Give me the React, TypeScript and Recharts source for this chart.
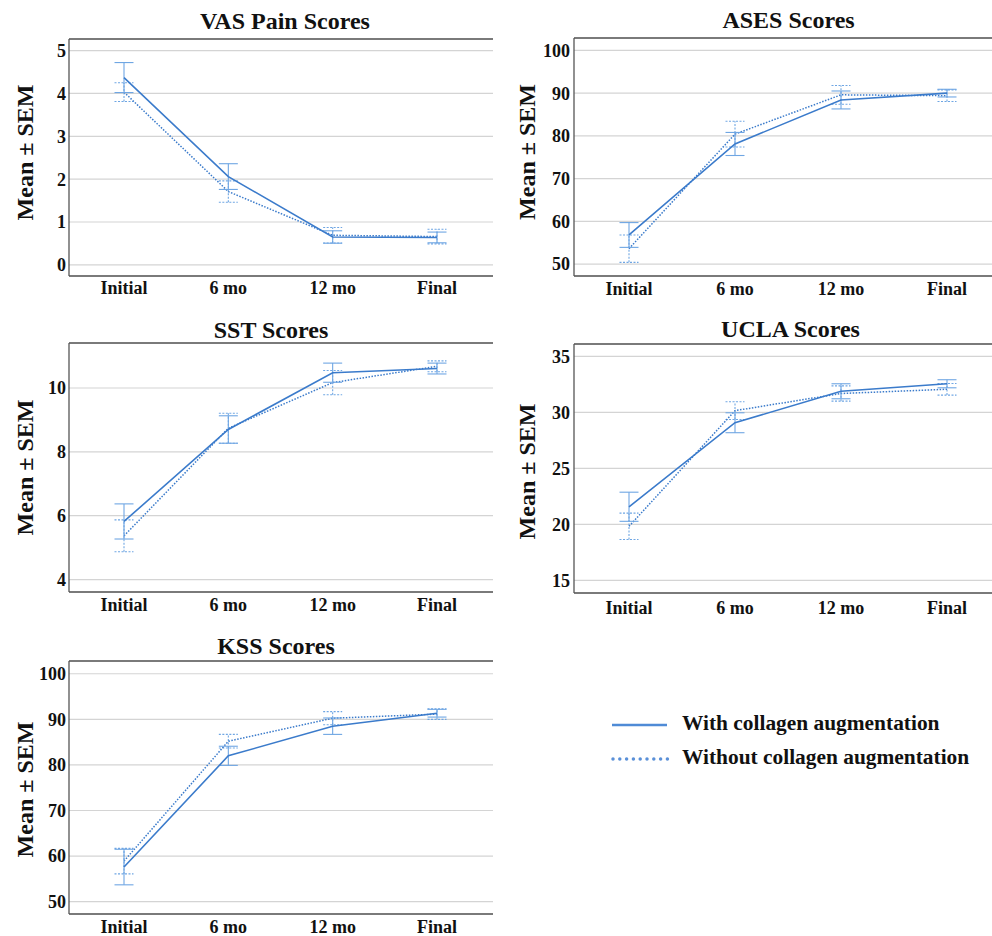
import React from 'react';
import { LineChart, Line, XAxis, YAxis, CartesianGrid, ErrorBar } from 'recharts';

const FONT = '"Liberation Serif", "Times New Roman", serif';
const LINE_COLOR = '#3b7bcb';
const ERR_COLOR = '#6fa6e3';

const categories = ['Initial', '6 mo', '12 mo', 'Final'];
const seriesNames = ['With collagen augmentation', 'Without collagen augmentation'];
const yAxisTitle = 'Mean ± SEM';

const vasWithMean = [4.37, 2.06, 0.65, 0.64];
const vasWithSem = [0.35, 0.3, 0.145, 0.125];
const vasWithoutMean = [4.03, 1.71, 0.69, 0.66];
const vasWithoutSem = [0.22, 0.25, 0.18, 0.17];
const vasTicks = [0, 1, 2, 3, 4, 5];

const asesWithMean = [56.8, 78.1, 88.4, 90.0];
const asesWithSem = [2.9, 2.7, 2.1, 0.9];
const asesWithoutMean = [53.6, 80.4, 89.6, 89.4];
const asesWithoutSem = [3.2, 3.0, 2.2, 1.35];
const asesTicks = [50, 60, 70, 80, 90, 100];

const sstWithMean = [5.82, 8.7, 10.48, 10.61];
const sstWithSem = [0.55, 0.43, 0.3, 0.17];
const sstWithoutMean = [5.37, 8.74, 10.17, 10.68];
const sstWithoutSem = [0.5, 0.47, 0.38, 0.17];
const sstTicks = [4, 6, 8, 10];

const uclaWithMean = [21.57, 29.07, 31.88, 32.55];
const uclaWithSem = [1.3, 0.89, 0.67, 0.36];
const uclaWithoutMean = [19.82, 30.15, 31.68, 32.06];
const uclaWithoutSem = [1.18, 0.79, 0.68, 0.52];
const uclaTicks = [15, 20, 25, 30, 35];

const kssWithMean = [57.6, 82.0, 88.5, 91.35];
const kssWithSem = [3.9, 2.1, 1.8, 0.85];
const kssWithoutMean = [58.9, 85.2, 90.25, 91.15];
const kssWithoutSem = [2.8, 1.5, 1.45, 1.15];
const kssTicks = [50, 60, 70, 80, 90, 100];

const buildRows = (wm: number[], ws: number[], om: number[], os: number[]) =>
  categories.map((c, i) => ({ cat: c, w: wm[i], we: ws[i], o: om[i], oe: os[i] }));

const panels = [
  {
    title: 'VAS Pain Scores', left: 0, top: 0, width: 496, height: 310, mt: 39, mb: 4, xh: 30, xtm: 5,
    to: 9, tdx: 4, yw: 69, ytm: 3, lo: 24, ldy: -5, domain: [-0.26, 5.27], ticks: vasTicks,
    rows: buildRows(vasWithMean, vasWithSem, vasWithoutMean, vasWithoutSem),
  },
  {
    title: 'ASES Scores', left: 496, top: 0, width: 510, height: 310, mt: 38, mb: 4, xh: 30, xtm: 6,
    to: 9.5, tdx: 0, yw: 78, ytm: 4, lo: 30, ldy: -5, domain: [47.2, 102.9], ticks: asesTicks,
    rows: buildRows(asesWithMean, asesWithSem, asesWithoutMean, asesWithoutSem),
  },
  {
    title: 'SST Scores', left: 0, top: 310, width: 496, height: 310, mt: 33, mb: 0, xh: 28, xtm: 6,
    to: 4, tdx: -10, yw: 69, ytm: 3, lo: 24, ldy: 0, domain: [3.61, 11.41], ticks: sstTicks,
    rows: buildRows(sstWithMean, sstWithSem, sstWithoutMean, sstWithoutSem),
  },
  {
    title: 'UCLA Scores', left: 496, top: 310, width: 510, height: 310, mt: 34, mb: 0, xh: 27, xtm: 8,
    to: 5.7, tdx: 2, yw: 78, ytm: 4, lo: 30, ldy: 3, domain: [13.87, 36.1], ticks: uclaTicks,
    rows: buildRows(uclaWithMean, uclaWithSem, uclaWithoutMean, uclaWithoutSem),
  },
  {
    title: 'KSS Scores', left: 0, top: 620, width: 496, height: 316, mt: 41, mb: 0, xh: 22, xtm: 6,
    to: 6.4, tdx: -5, yw: 69, ytm: 3, lo: 24, ldy: 2, domain: [47.3, 102.8], ticks: kssTicks,
    rows: buildRows(kssWithMean, kssWithSem, kssWithoutMean, kssWithoutSem),
  },
];

const tickStyle = { fill: '#111', fontSize: 18, fontWeight: 700, fontFamily: FONT };
const borderStyle = { stroke: '#555', strokeWidth: 1.3 };

function Panel({ p }: { p: any }) {
  return (
    <div style={{ position: 'absolute', left: p.left, top: p.top }}>
      <LineChart width={p.width} height={p.height} data={p.rows}
        margin={{ top: p.mt - 1, right: 3, bottom: p.mb, left: 0 }}>
        <CartesianGrid vertical={false} stroke="#d4d4d4" strokeWidth={1.2} />
        <XAxis dataKey="cat" scale="point" padding={{ left: 55, right: 56 }} height={p.xh}
          tickLine={false} tickSize={0} tickMargin={p.xtm} axisLine={borderStyle} tick={tickStyle} interval={0} />
        <XAxis xAxisId="top" orientation="top" dataKey="cat" scale="point" height={1}
          padding={{ left: 55, right: 56 }}
          tick={false} tickLine={false} axisLine={borderStyle}
          label={{ value: p.title, position: 'top', offset: p.to, dx: p.tdx, fill: '#111', fontSize: 24, fontWeight: 700, fontFamily: FONT }} />
        <YAxis type="number" domain={p.domain} ticks={p.ticks} allowDataOverflow width={p.yw}
          tickLine={false} tickSize={0} tickMargin={p.ytm} axisLine={borderStyle} tick={tickStyle}
          label={{ value: yAxisTitle, angle: -90, position: 'insideLeft', offset: p.lo, dy: p.ldy,
            style: { textAnchor: 'middle' }, fill: '#111', fontSize: 24, fontWeight: 700, fontFamily: FONT }} />
        <YAxis yAxisId="right" orientation="right" type="number" domain={p.domain} allowDataOverflow width={0}
          tick={false} tickLine={false} axisLine={borderStyle} />
        <Line dataKey="o" name={seriesNames[1]} stroke={LINE_COLOR} strokeWidth={1.5} strokeDasharray="1.5 1.5"
          dot={false} activeDot={false} isAnimationActive={false}>
          <ErrorBar dataKey="oe" direction="y" width={9.5} stroke={ERR_COLOR} strokeWidth={1.1} strokeDasharray="2 1.5" />
        </Line>
        <Line dataKey="w" name={seriesNames[0]} stroke={LINE_COLOR} strokeWidth={1.6}
          dot={false} activeDot={false} isAnimationActive={false}>
          <ErrorBar dataKey="we" direction="y" width={9.5} stroke={ERR_COLOR} strokeWidth={1.1} />
        </Line>
      </LineChart>
    </div>
  );
}

function LegendBox() {
  return (
    <svg style={{ position: 'absolute', left: 600, top: 700 }} width={392} height={80}>
      <line x1={12} x2={67} y1={25} y2={25} stroke="#4f8bd6" strokeWidth={2.5} />
      <line x1={13} x2={68} y1={59} y2={59} stroke="#5a90d8" strokeWidth={3.5} strokeLinecap="round" strokeDasharray="0 6.8" />
      <text x={82} y={30} fill="#111" fontSize={21.4} fontWeight={700} fontFamily={FONT}>{seriesNames[0]}</text>
      <text x={82} y={64} fill="#111" fontSize={21.4} fontWeight={700} fontFamily={FONT}>{seriesNames[1]}</text>
    </svg>
  );
}

export default function App() {
  return (
    <div style={{ position: 'absolute', left: 0, top: 0, width: 992, height: 936, overflow: 'hidden', background: '#fff' }}>
      {panels.map((p) => <Panel key={p.title} p={p} />)}
      <LegendBox />
    </div>
  );
}
